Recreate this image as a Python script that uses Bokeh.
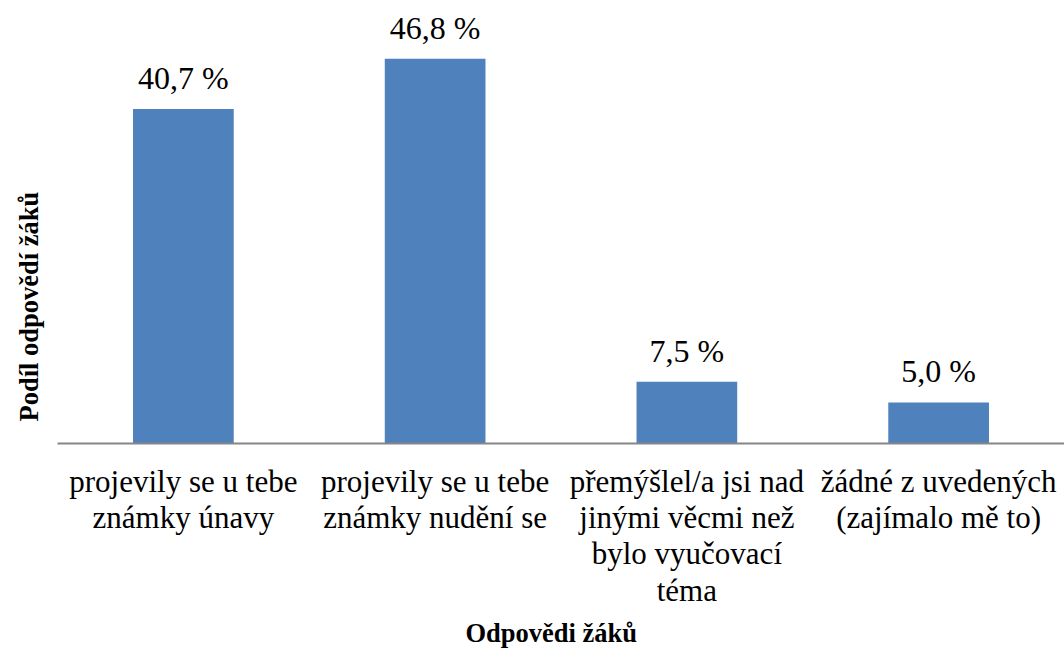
from bokeh.plotting import figure
from bokeh.models import ColumnDataSource, LabelSet, Range1d, Title
from bokeh.embed import file_html
from bokeh.resources import INLINE

categories = [
    "projevily se u tebe\nznámky únavy",
    "projevily se u tebe\nznámky nudění se",
    "přemýšlel/a jsi nad\njinými věcmi než\nbylo vyučovací\ntéma",
    "žádné z uvedených\n(zajímalo mě to)",
]
values = [40.7, 46.8, 7.5, 5.0]
labels = [f"{v:.1f}".replace(".", ",") + " %" for v in values]
x_title = "Odpovědi žáků"
y_title = "Podíl odpovědí žáků"

FONT = "Liberation Serif"

src = ColumnDataSource(dict(cat=categories, val=values, lab=labels))

p = figure(x_range=categories, y_range=Range1d(0, 53.9), width=1064, height=652,
           output_backend="svg", toolbar_location=None,
           min_border_left=57, min_border_right=0, min_border_top=0, min_border_bottom=0)
p.outline_line_color = None
p.xgrid.visible = False
p.ygrid.visible = False
p.yaxis.visible = False

p.vbar(x="cat", top="val", width=0.4, source=src, color="#4F81BD", line_color=None)

ax = p.xaxis[0]
ax.axis_line_color = "#868686"
ax.axis_line_width = 2
ax.major_tick_line_color = None
ax.minor_tick_line_color = None
ax.major_label_text_font = FONT
ax.major_label_text_font_size = "31px"
ax.major_label_text_color = "#000000"
ax.major_label_standoff = 14
ax.major_label_text_line_height = 1.04

p.add_layout(LabelSet(x="cat", y="val", text="lab", source=src, y_offset=13,
                      text_align="center", text_baseline="bottom",
                      text_font=FONT, text_font_size="32px", text_color="#000000"))

p.add_layout(Title(text=x_title, align="left", offset=408, standoff=10,
                   text_font=FONT, text_font_size="26.5px", text_font_style="bold",
                   text_color="#000000"), "below")
p.add_layout(Title(text=y_title, align="left", offset=22, standoff=24,
                   vertical_align="top",
                   text_font=FONT, text_font_size="26.5px", text_font_style="bold",
                   text_color="#000000"), "left")

open("out.html", "w").write(file_html(p, INLINE))
